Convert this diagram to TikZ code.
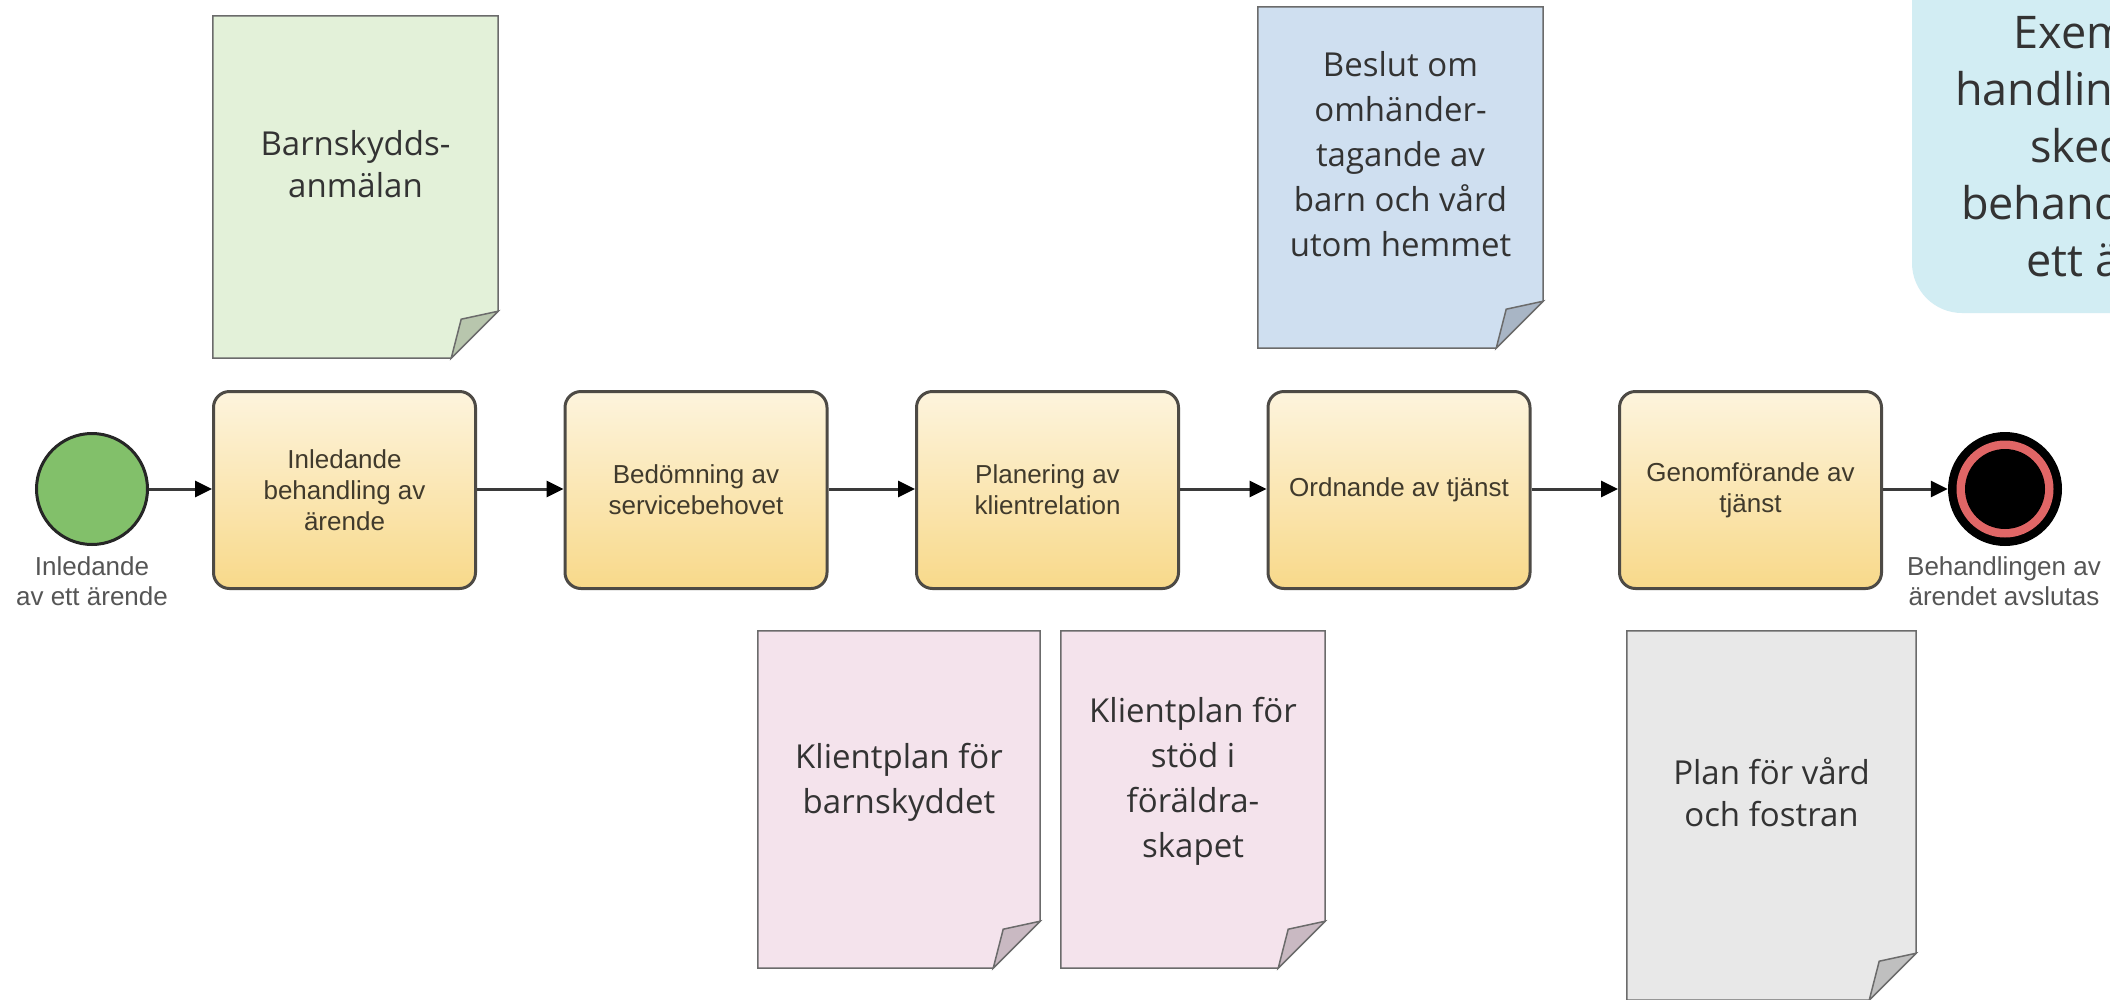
\documentclass[tikz,border=0pt]{standalone}
\usepackage{fontspec}
\newfontfamily\docfont{Open Sans}
\newfontfamily\bpmnfont{Liberation Sans}
\usetikzlibrary{arrows.meta}
\definecolor{startgreen}{RGB}{130,192,106}
\definecolor{endred}{RGB}{224,102,102}
\definecolor{tasktop}{RGB}{253,244,221}
\definecolor{taskbot}{RGB}{248,217,138}
\definecolor{taskborder}{RGB}{77,74,69}
\definecolor{tasktext}{RGB}{64,58,44}
\definecolor{labelgray}{RGB}{85,85,85}
\definecolor{flowgray}{RGB}{58,58,58}
\definecolor{doclinec}{RGB}{107,107,107}
\definecolor{docgreen}{RGB}{227,241,217}
\definecolor{foldgreen}{RGB}{184,198,173}
\definecolor{docblue}{RGB}{207,223,240}
\definecolor{foldblue}{RGB}{168,181,197}
\definecolor{docpink}{RGB}{244,227,236}
\definecolor{foldpink}{RGB}{201,185,194}
\definecolor{docgrey}{RGB}{232,232,232}
\definecolor{foldgrey}{RGB}{191,191,191}
\definecolor{notefill}{RGB}{210,237,243}
\definecolor{doctextc}{RGB}{51,51,51}
\newcommand{\paperdoc}[3]{%
  \draw[docline, fill=#2] (#1.north west) -- (#1.north east) -- ([yshift=47pt]#1.south east) -- ([xshift=-47pt]#1.south east) -- (#1.south west) -- cycle;
  \draw[docline, fill=#3] ([yshift=47pt]#1.south east) -- ([xshift=-37pt,yshift=39pt]#1.south east) -- ([xshift=-47pt]#1.south east) -- cycle;}
\begin{document}
\begin{tikzpicture}[x=1pt,y=-1pt,
  docnode/.style={rectangle, inner sep=0pt, draw=none},
  docline/.style={draw=doclinec, line width=1.5pt, line join=miter},
  doctext/.style={font=\docfont\fontsize{33}{45}\selectfont, text=doctextc, align=center, inner sep=0pt},
  notetext/.style={font=\docfont\fontsize{45}{57}\selectfont, text=doctextc, align=center, inner sep=0pt},
  task/.style={rectangle, rounded corners=16pt, draw=taskborder, line width=3pt, top color=tasktop, bottom color=taskbot, minimum width=262pt, minimum height=197pt, align=center, font=\bpmnfont\fontsize{26}{31}\selectfont, text=tasktext, inner sep=0pt},
  evlabel/.style={font=\bpmnfont\fontsize{26}{30}\selectfont, text=labelgray, align=center, inner sep=0pt},
  flow/.style={draw=flowgray, line width=3pt, -{Triangle[length=17pt,width=16pt,color=black]}}
]
\useasboundingbox (0,0) rectangle (2110,999);
\fill[white] (0,0) rectangle (2110,999);
\clip (0,0) rectangle (2110,999);

% callout
\node[rectangle, rounded corners=50pt, fill=notefill, minimum width=446pt, minimum height=420pt, inner sep=0pt] (note) at (2135,103) {};
\node[notetext] (notetxt) at (2135,144) {Exempel på\\handlingar i olika\\skeden av\\behandlingen av\\ett ärende};

% documents
\node[docnode, minimum width=285pt, minimum height=342pt] (dgreen) at (355.5,187) {};
\paperdoc{dgreen}{docgreen}{foldgreen}
\node[doctext, font=\docfont\fontsize{33}{42}\selectfont] (tgreen) at (355.5,164.5) {Barnskydds-\\anmälan};

\node[docnode, minimum width=285pt, minimum height=341pt] (dblue) at (1400.5,177.5) {};
\paperdoc{dblue}{docblue}{foldblue}
\node[doctext] (tblue) at (1400.5,154) {Beslut om\\omhänder-\\tagande av\\barn och vård\\utom hemmet};

\node[docnode, minimum width=282pt, minimum height=337pt] (dpinka) at (899,799.5) {};
\paperdoc{dpinka}{docpink}{foldpink}
\node[doctext] (tpinka) at (899,782) {Klientplan för\\barnskyddet};

\node[docnode, minimum width=264pt, minimum height=337pt] (dpinkb) at (1193,799.5) {};
\paperdoc{dpinkb}{docpink}{foldpink}
\node[doctext] (tpinkb) at (1193,781) {Klientplan för\\stöd i\\föräldra-\\skapet};

\node[docnode, minimum width=289pt, minimum height=369pt] (dgrey) at (1771.5,815.5) {};
\paperdoc{dgrey}{docgrey}{foldgrey}
\node[doctext, font=\docfont\fontsize{33}{42}\selectfont] (tgrey) at (1771.5,792) {Plan för vård\\och fostran};

% events
\node[circle, draw=black!85, line width=3pt, fill=startgreen, minimum size=111pt, inner sep=0pt] (start) at (92,489) {};
\node[evlabel, anchor=north] (startlbl) at (92,556) {Inledande\\av ett ärende};
\node[circle, fill=black, minimum size=114pt, inner sep=0pt] (end) at (2005,489) {};
\fill[endred] (end.center) circle[radius=48.5pt];
\fill[black] (end.center) circle[radius=40pt];
\node[evlabel, anchor=north] (endlbl) at (2004,556) {Behandlingen av\\ärendet avslutas};

% tasks
\node[task] (t1) at (344.5,490) {Inledande\\behandling av\\ärende};
\node[task] (t2) at (696,490) {Bedömning av\\servicebehovet};
\node[task] (t3) at (1047.5,490) {Planering av\\klientrelation};
\node[task] (t4) at (1399,490) {Ordnande av tjänst};
\node[task] (t5) at (1750.5,490) {Genomförande av\\tjänst};

% flows
\draw[flow] (start.east) -- (t1.west |- start.east);
\draw[flow] (t1.east |- start.east) -- (t2.west |- start.east);
\draw[flow] (t2.east |- start.east) -- (t3.west |- start.east);
\draw[flow] (t3.east |- start.east) -- (t4.west |- start.east);
\draw[flow] (t4.east |- start.east) -- (t5.west |- start.east);
\draw[flow] (t5.east |- start.east) -- (end.west);
\end{tikzpicture}
\end{document}
